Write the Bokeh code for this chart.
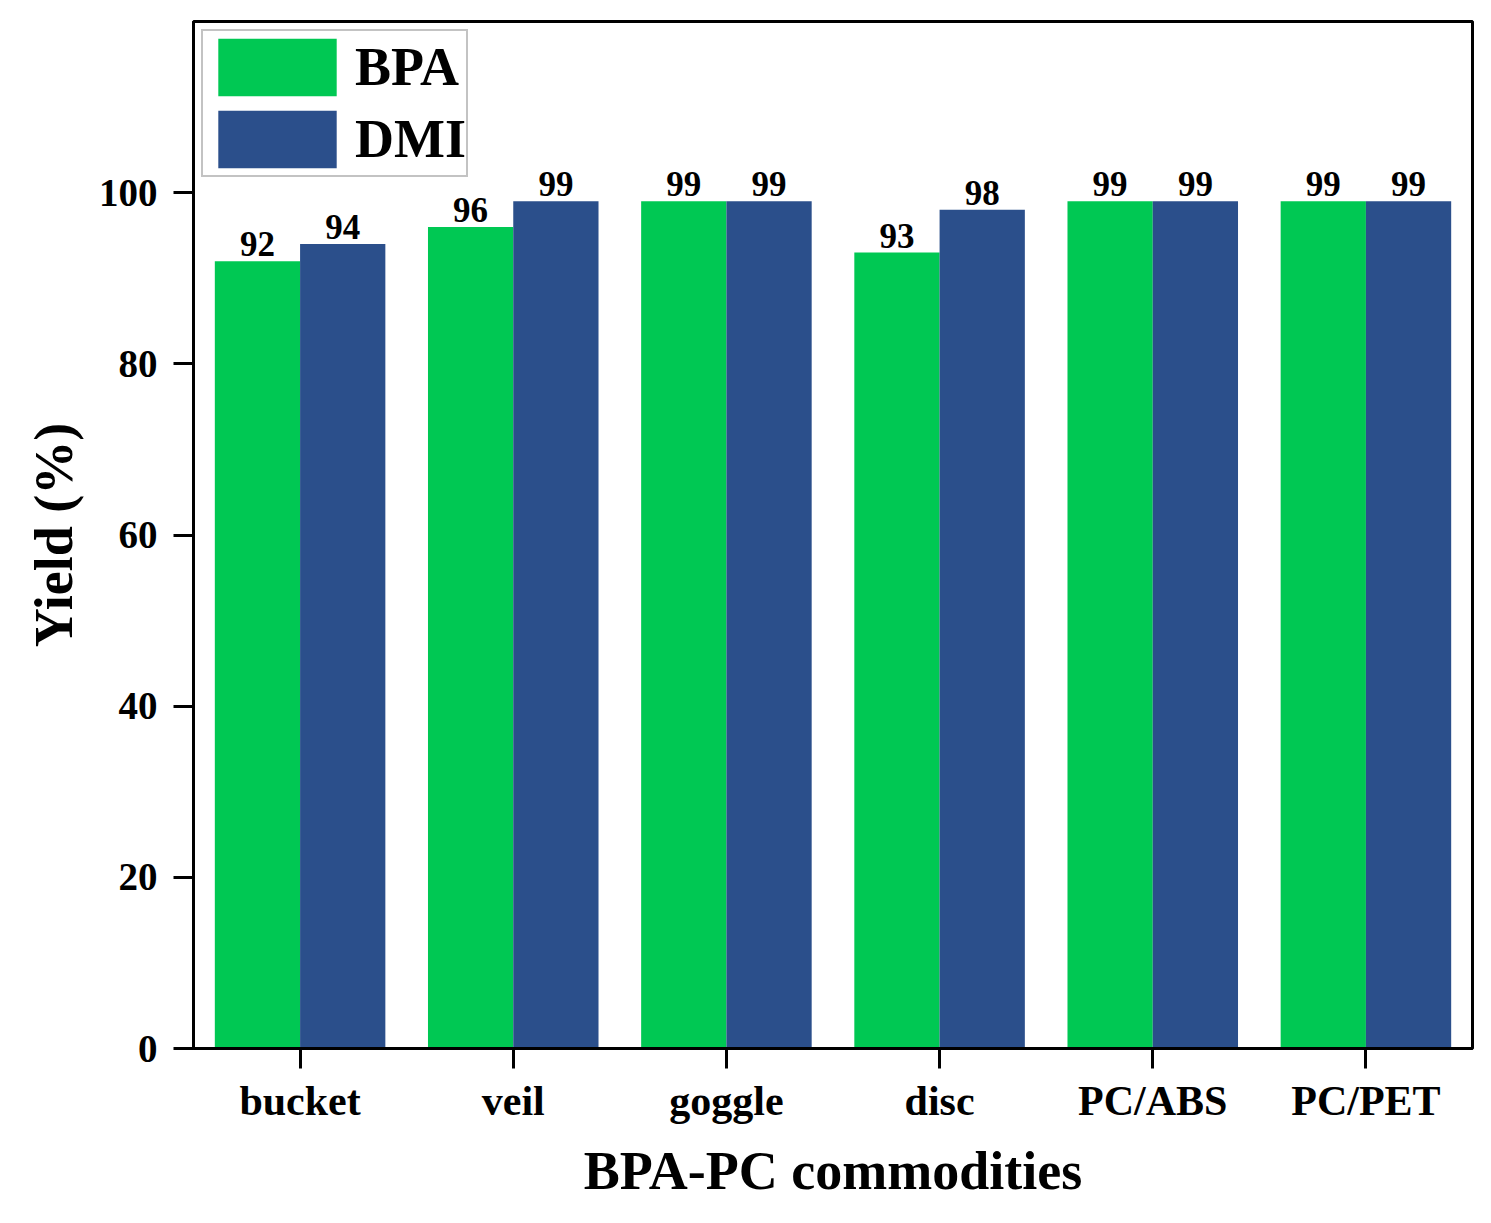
from bokeh.plotting import figure
from bokeh.models import ColumnDataSource, Legend, LegendItem, FixedTicker
from bokeh.transform import dodge
from bokeh.core.properties import value
from bokeh.embed import file_html
from bokeh.resources import INLINE

categories = ["bucket", "veil", "goggle", "disc", "PC/ABS", "PC/PET"]
bpa = [92, 96, 99, 93, 99, 99]
dmi = [94, 99, 99, 98, 99, 99]

FONT = "Liberation Serif"
GREEN = "#00c853"
BLUE = "#2b4f8b"

src = ColumnDataSource(dict(
    cat=categories,
    bpa=bpa,
    dmi=dmi,
    bpa_lbl=[str(v) for v in bpa],
    dmi_lbl=[str(v) for v in dmi],
))

p = figure(x_range=categories, y_range=(0, 120),
           width=1483, height=1213,
           output_backend="svg", toolbar_location=None,
           min_border_left=193, min_border_right=11,
           min_border_top=21, min_border_bottom=165)
p.x_range.range_padding = 0

r1 = p.vbar(x=dodge("cat", -0.2, range=p.x_range), top="bpa", width=0.4,
            source=src, color=GREEN, line_color=None)
r2 = p.vbar(x=dodge("cat", 0.2, range=p.x_range), top="dmi", width=0.4,
            source=src, color=BLUE, line_color=None)

# value labels above bars
for col, off in (("bpa", -0.2), ("dmi", 0.2)):
    p.text(x=dodge("cat", off, range=p.x_range), y=col, text=col + "_lbl",
           source=src, text_align="center", text_baseline="bottom",
           y_offset=-5, text_font=value(FONT), text_font_style="bold",
           text_font_size="35px", text_color="black")

p.xgrid.visible = False
p.ygrid.visible = False
p.outline_line_color = "black"
p.outline_line_width = 3

p.yaxis.ticker = FixedTicker(ticks=[0, 20, 40, 60, 80, 100])
p.yaxis.minor_tick_line_color = None
for ax in (p.xaxis, p.yaxis):
    ax.axis_line_width = 3
    ax.major_tick_line_width = 3
    ax.major_tick_out = 20
    ax.major_tick_in = 0
    ax.major_label_text_font = FONT
    ax.major_label_text_font_style = "bold"
    ax.major_label_text_font_size = "39px"
    ax.major_label_text_color = "black"
    ax.axis_label_text_font = FONT
    ax.axis_label_text_font_style = "bold"
    ax.axis_label_text_font_size = "54px"
    ax.axis_label_text_color = "black"

p.xaxis.major_label_text_font_size = "42px"
p.xaxis.axis_label = "BPA-PC commodities"
p.yaxis.axis_label = "Yield (%)"
p.xaxis.major_label_standoff = 9
p.xaxis.axis_label_standoff = 14
p.yaxis.major_label_standoff = 16
p.yaxis.axis_label_standoff = 12

legend = Legend(items=[LegendItem(label="BPA", renderers=[r1]),
                       LegendItem(label="DMI", renderers=[r2])],
                location="top_left")
legend.glyph_width = 148
legend.glyph_height = 72
legend.label_text_font = FONT
legend.label_text_font_style = "bold"
legend.label_text_font_size = "54px"
legend.label_text_color = "black"
legend.label_standoff = 4
legend.spacing = -4
legend.padding = 0
legend.margin = 8
legend.border_line_color = "#888888"
legend.border_line_width = 2
legend.background_fill_alpha = 0
p.add_layout(legend)

open("out.html", "w").write(file_html(p, INLINE))
